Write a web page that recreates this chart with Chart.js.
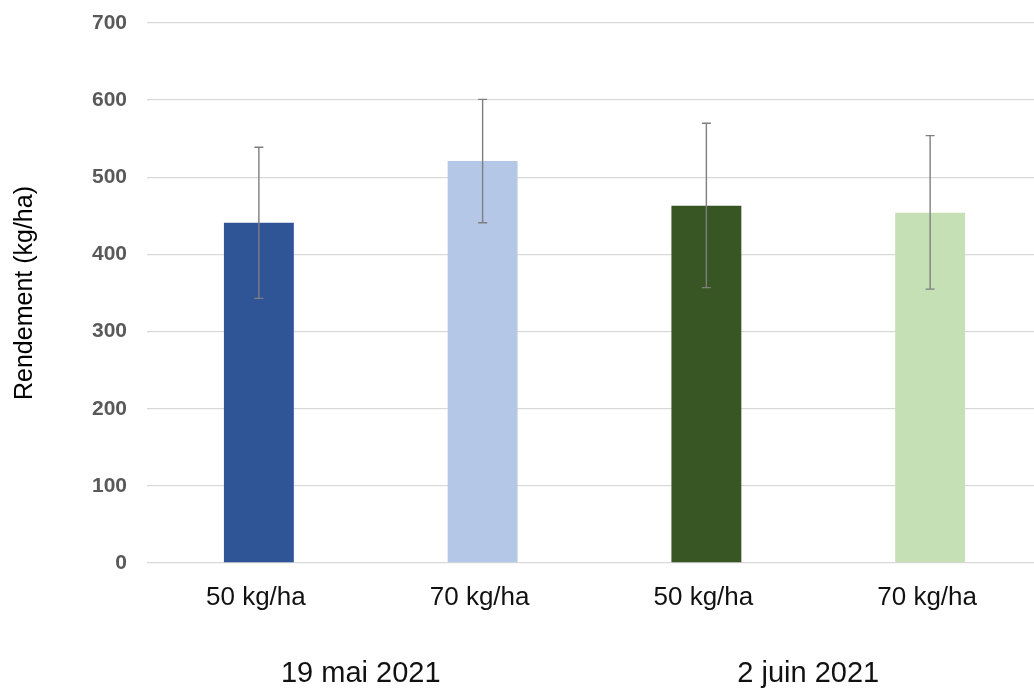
<!DOCTYPE html>
<html>
<head>
<meta charset="utf-8">
<script src="https://cdn.jsdelivr.net/npm/chart.js@4/dist/chart.umd.min.js"></script>
<style>
  html, body { margin: 0; padding: 0; background: #ffffff; overflow: hidden; }
  #wrap { width: 1042px; height: 691px; }
</style>
</head>
<body>
<div id="wrap"><canvas id="c" width="1042" height="691"></canvas></div>
<script>
const categories = ['50 kg/ha', '70 kg/ha', '50 kg/ha', '70 kg/ha'];
const groupLabels = ['19 mai 2021', '2 juin 2021'];
const yields = [441, 521, 463, 454];
const errUpper = [539, 601, 570, 554];
const errLower = [343, 441, 357, 355];
const barColors = ['#2F5597', '#B4C7E7', '#375623', '#C5E0B4'];
const yTicks = [0, 100, 200, 300, 400, 500, 600, 700];

const errorBarPlugin = {
  id: 'errorBars',
  afterDatasetsDraw(chart) {
    const ctx = chart.ctx;
    const meta = chart.getDatasetMeta(0);
    const yScale = chart.scales.y;
    ctx.save();
    ctx.strokeStyle = '#7f7f7f';
    ctx.lineWidth = 1.4;
    meta.data.forEach((bar, i) => {
      const x = bar.x;
      const yt = yScale.getPixelForValue(errUpper[i]);
      const yb = yScale.getPixelForValue(errLower[i]);
      const cap = 4.5;
      ctx.beginPath();
      ctx.moveTo(x, yt); ctx.lineTo(x, yb);
      ctx.moveTo(x - cap, yt); ctx.lineTo(x + cap, yt);
      ctx.moveTo(x - cap, yb); ctx.lineTo(x + cap, yb);
      ctx.stroke();
    });
    ctx.restore();
  }
};

new Chart(document.getElementById('c'), {
  type: 'bar',
  data: {
    labels: categories,
    datasets: [{
      data: yields,
      backgroundColor: barColors,
      borderWidth: 0,
      categoryPercentage: 1,
      barPercentage: 0.3125
    }]
  },
  options: {
    responsive: false,
    animation: false,
    events: [],
    layout: { padding: { top: 23, left: 0, right: 0, bottom: 0 } },
    plugins: { legend: { display: false }, tooltip: { enabled: false } },
    scales: {
      y: {
        min: 0, max: 700,
        afterBuildTicks(scale) { scale.ticks = yTicks.map(v => ({ value: v })); },
        afterFit(scale) { scale.width = 147; scale.paddingTop = 0; scale.paddingBottom = 0; },
        grid: { color: '#d9d9d9', lineWidth: 1.3, drawTicks: false, tickLength: 0 },
        border: { display: false },
        ticks: {
          padding: 20,
          color: '#595959',
          font: { family: '"Liberation Sans", Arial, sans-serif', size: 21, weight: 'bold' }
        },
        title: {
          display: true,
          text: 'Rendement (kg/ha)',
          color: '#000000',
          padding: { top: 10, bottom: 0 },
          font: { family: '"Liberation Sans", Arial, sans-serif', size: 25 }
        }
      },
      x: {
        position: 'bottom',
        offset: true,
        afterFit(scale) { scale.height = 60; },
        grid: { display: false, drawTicks: false, tickLength: 0 },
        border: { display: false },
        ticks: {
          padding: 19,
          labelOffset: -3,
          color: '#111111',
          maxRotation: 0,
          autoSkip: false,
          font: { family: '"Liberation Sans", Arial, sans-serif', size: 26 }
        }
      },
      x2: {
        type: 'category',
        position: 'bottom',
        labels: groupLabels,
        offset: true,
        afterFit(scale) { scale.height = 68; },
        grid: { display: false, drawTicks: false, tickLength: 0 },
        border: { display: false },
        ticks: {
          padding: 34,
          labelOffset: -10,
          color: '#111111',
          maxRotation: 0,
          autoSkip: false,
          font: { family: '"Liberation Sans", Arial, sans-serif', size: 29 }
        }
      }
    }
  },
  plugins: [errorBarPlugin]
});
</script>
</body>
</html>
